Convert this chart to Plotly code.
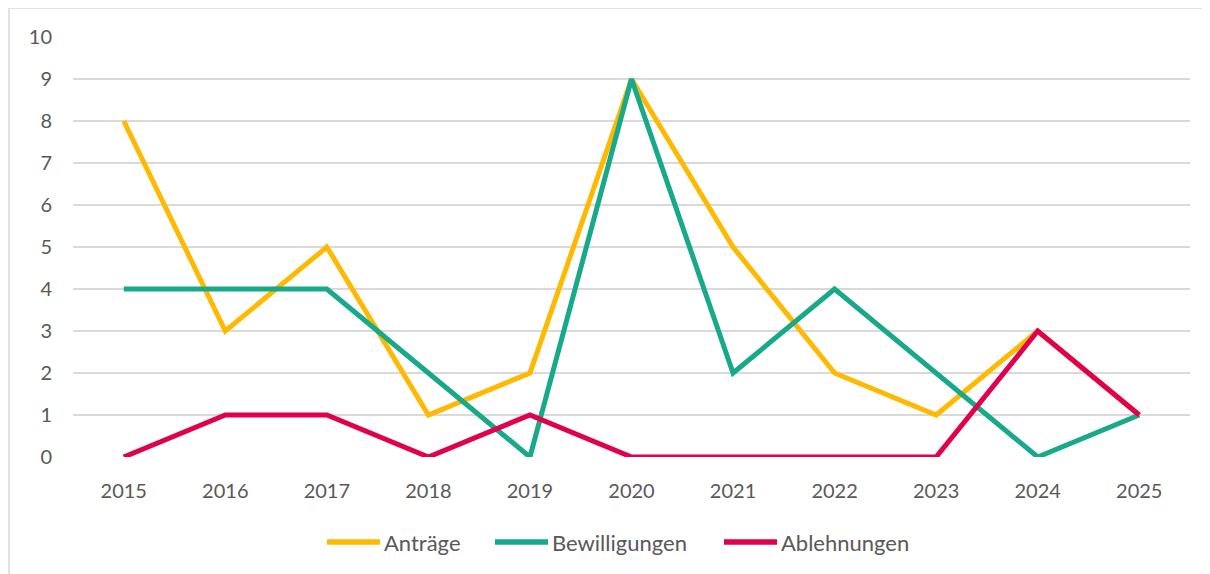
import plotly.graph_objects as go

years = ["2015", "2016", "2017", "2018", "2019", "2020", "2021", "2022", "2023", "2024", "2025"]
antraege = [8, 3, 5, 1, 2, 9, 5, 2, 1, 3, 1]
bewilligungen = [4, 4, 4, 2, 0, 9, 2, 4, 2, 0, 1]
ablehnungen = [0, 1, 1, 0, 1, 0, 0, 0, 0, 3, 1]

series = [
    ("Anträge", antraege, "#FFB900"),
    ("Bewilligungen", bewilligungen, "#17A98A"),
    ("Ablehnungen", ablehnungen, "#E0004D"),
]

font_fam = "Lato, 'Open Sans', sans-serif"
text_col = "#595959"

fig = go.Figure()
for name, vals, col in series:
    fig.add_trace(go.Scatter(x=years, y=vals, mode="lines", name=name,
                             line=dict(color=col, width=5), showlegend=False))

# plot area in window pixels (page body adds 8px margin)
px_left, px_right, px_top, px_bottom = 73, 1190, 37, 457
pw, ph = px_right - px_left, px_bottom - px_top


def to_px(x):
    return (x - px_left) / pw


def to_py(y):
    return (px_bottom - y) / ph


# legend drawn by hand: Excel-style long line samples touching the text
legend_starts = [325, 493, 722]
sample_len = 57
legend_y = to_py(542)
shapes = [dict(type="rect", xref="paper", yref="paper",
               x0=to_px(9), x1=1.2, y0=-0.5, y1=to_py(8),
               line=dict(color="#D9D9D9", width=1.5), layer="below")]
annotations = []
for (name, _, col), xs in zip(series, legend_starts):
    shapes.append(dict(type="line", xref="paper", yref="paper",
                       x0=to_px(xs + 2), x1=to_px(xs + sample_len - 2), y0=legend_y, y1=legend_y,
                       line=dict(color=col, width=5.5)))
    annotations.append(dict(text=name, xref="paper", yref="paper", x=to_px(xs + sample_len),
                            y=legend_y, xanchor="left", yanchor="middle", showarrow=False,
                            font=dict(size=22, color=text_col)))

fig.update_layout(
    width=1202, height=566,
    margin=dict(l=px_left - 8, r=1210 - px_right, t=px_top - 8, b=574 - px_bottom),
    plot_bgcolor="white", paper_bgcolor="white",
    font=dict(family=font_fam, size=20, color=text_col),
    showlegend=False,
    xaxis=dict(type="category", range=[-0.5, 10.5], showgrid=False, zeroline=False,
               showline=False, ticks="", ticklabelstandoff=20),
    yaxis=dict(range=[0, 10], dtick=1, showgrid=True, gridcolor="#D9D9D9", gridwidth=1.5,
               zeroline=False, showline=False, ticks="", ticklabelstandoff=20),
    shapes=shapes,
    annotations=annotations,
)

fig.write_html("out.html")
